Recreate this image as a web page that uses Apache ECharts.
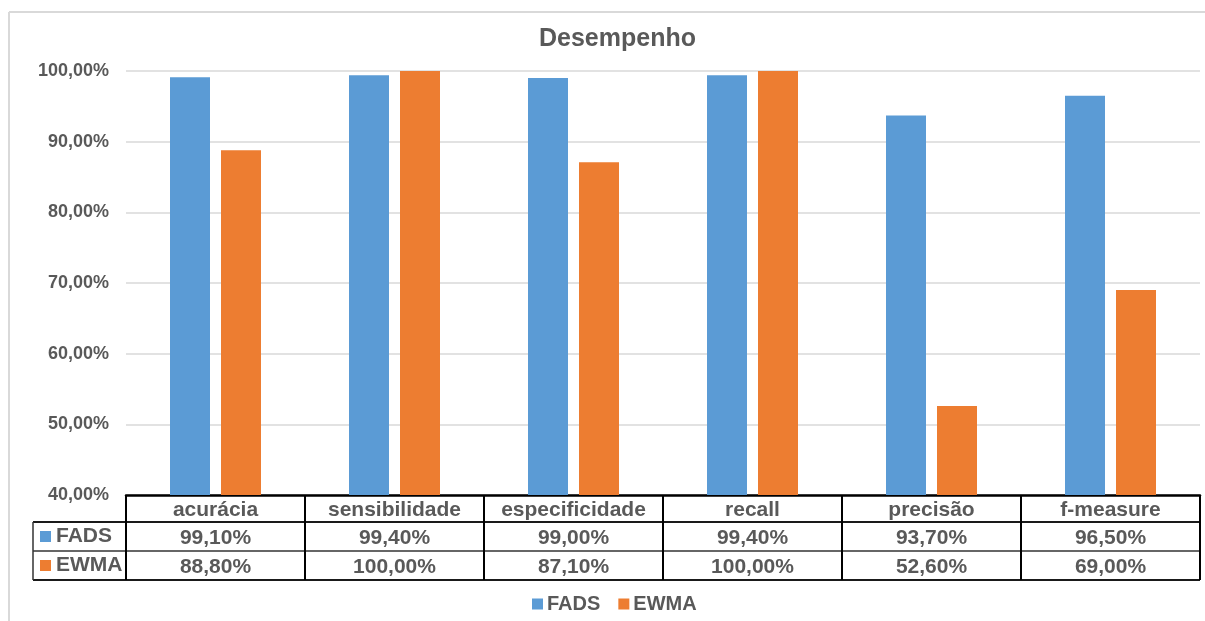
<!DOCTYPE html>
<html>
<head>
<meta charset="utf-8">
<script src="https://cdn.jsdelivr.net/npm/echarts@6/dist/echarts.min.js"></script>
<style>
  html, body { margin: 0; padding: 0; background: #fff; }
  #chart { width: 1205px; height: 621px; }
</style>
</head>
<body>
<div id="chart"></div>
<script>
// Performance metrics for the two detectors
const categories = ['acurácia', 'sensibilidade', 'especificidade', 'recall', 'precisão', 'f-measure'];
const seriesNames = ['FADS', 'EWMA'];
const fadsValues = [99.1, 99.4, 99.0, 99.4, 93.7, 96.5];
const ewmaValues = [88.8, 100.0, 87.1, 100.0, 52.6, 69.0];
const yMin = 40, yMax = 100, yStep = 10;

const colors = ['#5B9BD5', '#ED7D31'];
const textGray = '#595959';
const fontFamily = '"Liberation Sans", Arial, Helvetica, sans-serif';

const W = 1205, H = 621;
const grid = { left: 126, right: 5, top: 71, bottom: 126 };
const axisY = H - grid.bottom;          // top edge of the data table
const headerH = 27, rowH = 29;          // data table row heights
const tableLeft = 33, tableRight = W - grid.right;

const fmtPct = v => v.toFixed(2).replace('.', ',') + '%';

const chart = echarts.init(document.getElementById('chart'), null, { renderer: 'canvas' });

const rowLine = (y, x1, x2, w, c) => ({
  type: 'line', silent: true,
  shape: { x1: x1, y1: y, x2: x2, y2: y },
  style: { stroke: c, lineWidth: w }
});

const tableLegend = [];
seriesNames.forEach((name, i) => {
  const cy = axisY + headerH + rowH * i + rowH / 2;
  tableLegend.push({
    type: 'rect', silent: true,
    shape: { x: 40, y: cy - 5.5, width: 11, height: 11 },
    style: { fill: colors[i] }
  });
  tableLegend.push({
    type: 'text', silent: true,
    x: 56, y: cy,
    style: {
      text: name, fill: textGray, font: 'bold 21px ' + fontFamily,
      textVerticalAlign: 'middle', textAlign: 'left'
    }
  });
});

const option = {
  backgroundColor: '#fff',
  animation: false,
  title: {
    text: 'Desempenho',
    left: 534,
    top: 22,
    textStyle: { fontFamily: fontFamily, fontSize: 25, fontWeight: 'bold', color: textGray }
  },
  legend: {
    data: seriesNames,
    left: 527,
    top: 589,
    icon: 'rect',
    itemWidth: 11,
    itemHeight: 11,
    itemGap: 18,
    textStyle: { fontFamily: fontFamily, fontSize: 20, fontWeight: 'bold', color: textGray, padding: [0, 0, 0, -1] }
  },
  grid: { left: grid.left, right: grid.right, top: grid.top, bottom: grid.bottom, containLabel: false },
  xAxis: {
    type: 'category',
    data: categories,
    boundaryGap: true,
    axisLine: { show: true, lineStyle: { color: '#000', width: 2.5 } },
    axisTick: { show: true, interval: 0, length: headerH + rowH * 2, lineStyle: { color: '#000', width: 2 } },
    axisLabel: {
      interval: 0,
      margin: 1,
      formatter: (value, index) =>
        '{h|' + value + '}\n{v|' + fmtPct(fadsValues[index]) + '}\n{v|' + fmtPct(ewmaValues[index]) + '}',
      rich: {
        h: { fontFamily: fontFamily, fontSize: 21, fontWeight: 'bold', color: textGray, lineHeight: 28 },
        v: { fontFamily: fontFamily, fontSize: 21, fontWeight: 'bold', color: textGray, lineHeight: 29 }
      }
    }
  },
  yAxis: {
    type: 'value',
    min: yMin,
    max: yMax,
    interval: yStep,
    axisLine: { show: false },
    axisTick: { show: false },
    splitLine: { lineStyle: { color: '#d9d9d9', width: 1.5 } },
    axisLabel: {
      margin: 17,
      formatter: v => fmtPct(v),
      fontFamily: fontFamily, fontSize: 18, fontWeight: 'bold', color: textGray
    }
  },
  series: [
    {
      name: seriesNames[0], type: 'bar', data: fadsValues,
      barWidth: 40, barGap: '27.5%',
      itemStyle: { color: colors[0] }
    },
    {
      name: seriesNames[1], type: 'bar', data: ewmaValues,
      barWidth: 40, barGap: '27.5%',
      itemStyle: { color: colors[1] }
    }
  ],
  graphic: [
    // outer chart border
    rowLine(12, 9, W, 2, '#d9d9d9'),
    { type: 'line', silent: true, shape: { x1: 9, y1: 12, x2: 9, y2: H }, style: { stroke: '#d9d9d9', lineWidth: 2 } },
    // data table row separators and legend column
    rowLine(axisY + headerH, tableLeft, tableRight, 1.8, '#1a1a1a'),
    rowLine(axisY + headerH + rowH, tableLeft, tableRight, 1.5, '#333'),
    rowLine(axisY + headerH + rowH * 2, tableLeft, tableRight, 2, '#1a1a1a'),
    { type: 'line', silent: true,
      shape: { x1: tableLeft, y1: axisY + headerH, x2: tableLeft, y2: axisY + headerH + rowH * 2 },
      style: { stroke: '#333', lineWidth: 1.5 } }
  ].concat(tableLegend)
};

chart.setOption(option);
</script>
</body>
</html>
